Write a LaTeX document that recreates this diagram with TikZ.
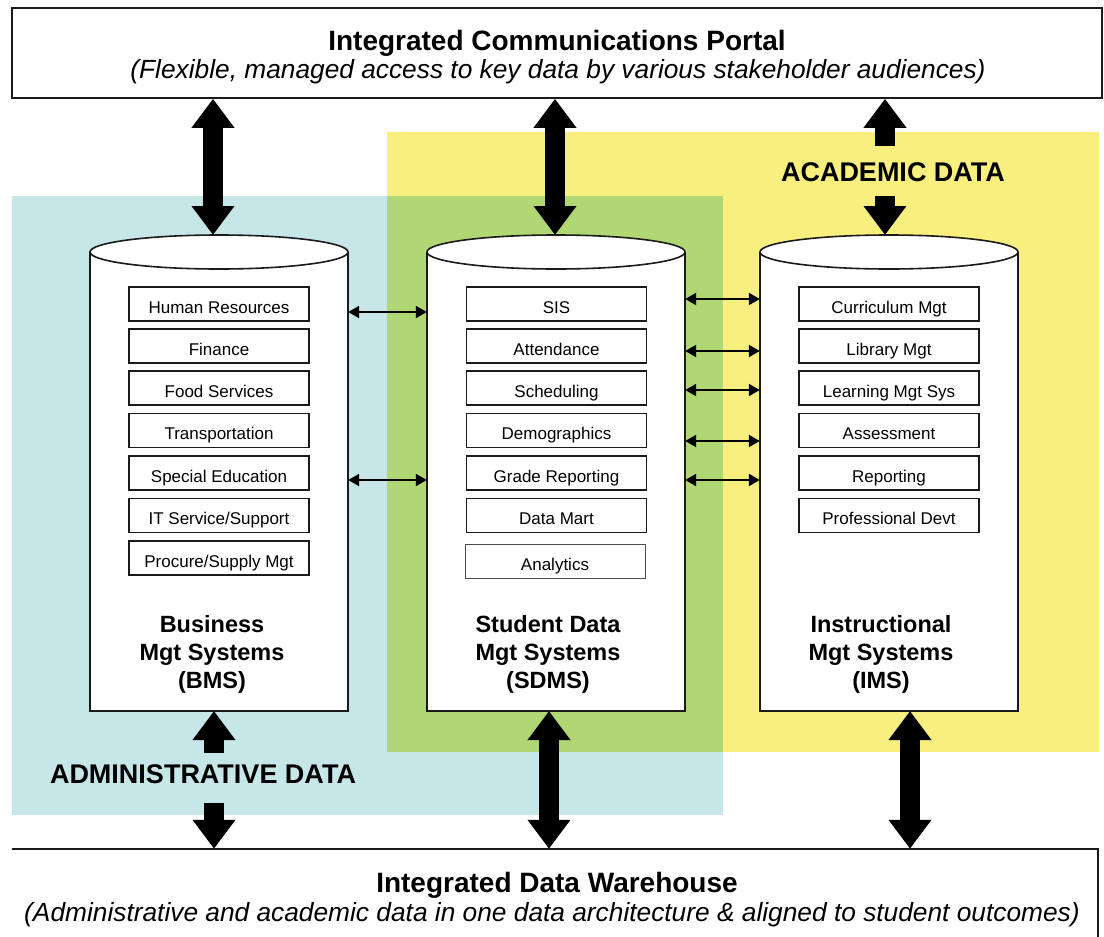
\documentclass[tikz,border=0pt]{standalone}
\usepackage{fontspec}
\setmainfont{Liberation Sans}
\usetikzlibrary{arrows.meta}
\definecolor{acadyellow}{HTML}{F9EF7E}
\definecolor{adminblue}{HTML}{C6E6E8}
\definecolor{overgreen}{HTML}{B1D674}
\definecolor{edge}{HTML}{1A1A1A}
\begin{document}
\begin{tikzpicture}[x=1pt,y=-1pt,
  ibox/.style={draw=edge, line width=1.7pt, fill=white, minimum width=180pt, minimum height=34pt, inner sep=0pt, text height=18pt, text depth=0pt, font=\fontsize{17}{20}\selectfont},
  ibox2/.style={ibox, draw=black!70, line width=0.9pt},
  cylline/.style={draw=edge, line width=1.6pt},
  bigtwo/.style={line width=20pt, {Triangle[width=41pt,length=29pt]}-{Triangle[width=41pt,length=29pt]}},
  bigone/.style={line width=20pt, -{Triangle[width=41pt,length=29pt]}},
  smallarrow/.style={line width=2.2pt, {Triangle[width=12pt,length=11pt]}-{Triangle[width=12pt,length=11pt]}},
  syslabel/.style={font=\fontsize{23.5}{28}\selectfont\bfseries, align=center, inner sep=0pt},
  regionlabel/.style={font=\fontsize{27}{30}\selectfont\bfseries, inner sep=0pt},
  titletext/.style={font=\fontsize{28}{30}\selectfont\bfseries, inner sep=0pt},
  subtext/.style={font=\fontsize{26.3}{28}\selectfont\itshape, inner sep=0pt}
]
\useasboundingbox (0,0) rectangle (1104,937);

% data regions
\fill[acadyellow] (387,132) rectangle (1099,752);
\fill[adminblue] (12,196) rectangle (723,815);
\fill[overgreen] (387,196) rectangle (723,752);

% portal
\node[draw=edge, line width=1.6pt, fill=white, minimum width=1090pt, minimum height=90pt, inner sep=0pt] (portal) at (557,53) {};
\node[titletext] (portaltitle) at (557,43) {Integrated Communications Portal};
\node[subtext] (portalsub) at (558,72) {(Flexible, managed access to key data by various stakeholder audiences)};

% warehouse
\node[minimum width=1086pt, minimum height=88pt, inner sep=0pt] (wh) at (555,893) {};
\draw[edge, line width=1.5pt] (wh.north west) -- (wh.north east) -- (wh.south east);
\node[titletext] (whtitle) at (557,885) {Integrated Data Warehouse};
\node[subtext] (whsub) at (552,915) {(Administrative and academic data in one data architecture \& aligned to student outcomes)};

% cylinders
\foreach \nm/\cx in {bms/219, sdms/556, ims/889}{
  \fill[white] (\cx-129,252) rectangle (\cx+129,711);
  \draw[cylline] (\cx-129,252) -- (\cx-129,711) -- (\cx+129,711) -- (\cx+129,252);
  \draw[cylline, fill=white] (\cx,252) ellipse [x radius=129, y radius=17];
  \node[minimum width=258pt, minimum height=459pt, inner sep=0pt] (\nm) at (\cx,481.5) {};
}

% BMS boxes
\node[ibox] (hr)    at (219,304)   {Human Resources};
\node[ibox] (fin)   at (219,346)   {Finance};
\node[ibox] (food)  at (219,388)   {Food Services};
\node[ibox] (trans) at (219,430.5) {Transportation};
\node[ibox] (sped)  at (219,473)   {Special Education};
\node[ibox] (it)    at (219,515.5) {IT Service/Support};
\node[ibox] (proc)  at (219,558)   {Procure/Supply Mgt};

% SDMS boxes
\node[ibox] (sis)   at (556.5,304)   {SIS};
\node[ibox] (att)   at (556.5,346)   {Attendance};
\node[ibox] (sch)   at (556.5,388)   {Scheduling};
\node[ibox] (demo)  at (556.5,430.5) {Demographics};
\node[ibox] (grade) at (556.5,473)   {Grade Reporting};
\node[ibox] (mart)  at (556.5,515.5) {Data Mart};
\node[ibox2] (anal) at (555,561.5)   {Analytics};

% IMS boxes
\node[ibox] (curr)  at (889,304)   {Curriculum Mgt};
\node[ibox] (lib)   at (889,346)   {Library Mgt};
\node[ibox] (lms)   at (889,388)   {Learning Mgt Sys};
\node[ibox] (assess) at (889,430.5) {Assessment};
\node[ibox] (rep)   at (889,473)   {Reporting};
\node[ibox] (prof)  at (889,515.5) {Professional Devt};

% system labels
\node[syslabel] (bmslabel)  at (212,654) {Business\\Mgt Systems\\(BMS)};
\node[syslabel] (sdmslabel) at (548,654) {Student Data\\Mgt Systems\\(SDMS)};
\node[syslabel] (imslabel)  at (881,654) {Instructional\\Mgt Systems\\(IMS)};

% region labels
\node[regionlabel] (acad)  at (893,172.5) {ACADEMIC DATA};
\node[regionlabel] (admin) at (203,774) {ADMINISTRATIVE DATA};

% big arrow end points
\coordinate (bmsT)  at (213,235);
\coordinate (sdmsT) at (555,235);
\coordinate (imsT)  at (885,235);
\coordinate (bmsB)  at (214,711);
\coordinate (sdmsB) at (549,711);
\coordinate (imsB)  at (910,711);
\coordinate (acadU) at (885,146);
\coordinate (acadL) at (885,196);
\coordinate (adminU) at (214,753);
\coordinate (adminL) at (214,803);

% big arrows
\draw[bigtwo] (portal.south -| bmsT) -- (bmsT);
\draw[bigtwo] (portal.south -| sdmsT) -- (sdmsT);
\draw[bigone] (acadU) -- (portal.south -| acadU);
\draw[bigone] (acadL) -- (imsT);
\draw[bigone] (adminU) -- (bmsB);
\draw[bigone] (adminL) -- (wh.north -| adminL);
\draw[bigtwo] (sdmsB) -- (wh.north -| sdmsB);
\draw[bigtwo] (imsB) -- (wh.north -| imsB);

% small arrows
\draw[smallarrow] ([yshift=-8pt]bms.east |- hr) -- ([yshift=-8pt]sdms.west |- hr);
\draw[smallarrow] ([yshift=-7pt]bms.east |- sped) -- ([yshift=-7pt]sdms.west |- sped);
\draw[smallarrow] ([yshift=5pt]sdms.east |- sis) -- ([yshift=5pt]ims.west |- sis);
\draw[smallarrow] ([yshift=-5pt]sdms.east |- att) -- ([yshift=-5pt]ims.west |- att);
\draw[smallarrow] ([yshift=-2pt]sdms.east |- sch) -- ([yshift=-2pt]ims.west |- sch);
\draw[smallarrow] ([yshift=-10.5pt]sdms.east |- demo) -- ([yshift=-10.5pt]ims.west |- demo);
\draw[smallarrow] ([yshift=-7pt]sdms.east |- grade) -- ([yshift=-7pt]ims.west |- grade);
\end{tikzpicture}
\end{document}
